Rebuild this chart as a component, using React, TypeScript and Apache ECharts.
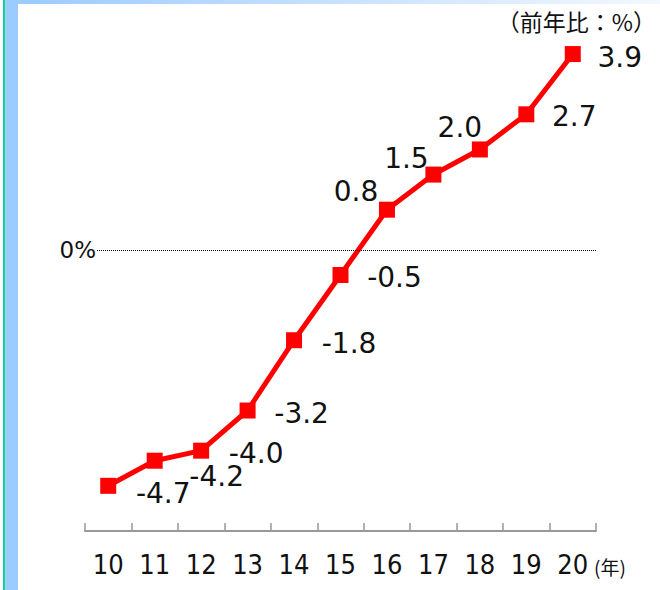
import { useEffect, useRef } from "react";
import * as echarts from "echarts";

const years = ["10", "11", "12", "13", "14", "15", "16", "17", "18", "19", "20"];
const growth = [-4.7, -4.2, -4.0, -3.2, -1.8, -0.5, 0.8, 1.5, 2.0, 2.7, 3.9];
const labelOffsets: [number, number][] = [
  [55, 8], [62, 16], [55, 3], [54, 3], [55, 3], [54, 3],
  [-31, -18], [-27, -16], [-20, -22], [48, 2], [47, 3],
];
const unitText = "（前年比：%）";
const yearUnitText = "(年)";
const zeroText = "0%";

const NUM_FONT = "'DejaVu Sans', Verdana, sans-serif";
const AXIS_FONT = "'Liberation Sans Narrow', 'DejaVu Sans Condensed', 'Liberation Sans', sans-serif";
const JP_FONT = "'Noto Sans CJK JP', 'Noto Sans', sans-serif";

export default function App() {
  const ref = useRef<HTMLDivElement>(null);
  useEffect(() => {
    if (!ref.current) return;
    const chart = echarts.init(ref.current, null, { renderer: "svg" });
    chart.setOption({
      animation: false,
      backgroundColor: "#ffffff",
      grid: { left: 85, right: 64, top: 34, bottom: 59 },
      xAxis: {
        type: "category",
        data: years,
        boundaryGap: true,
        axisLine: { onZero: false, lineStyle: { color: "#999999", width: 2 } },
        axisTick: { show: true, inside: true, length: 8, lineStyle: { color: "#999999", width: 1.5 } },
        axisLabel: { fontFamily: AXIS_FONT, fontSize: 27, color: "#111111", margin: 20 },
        splitLine: { show: false },
      },
      yAxis: {
        type: "value",
        min: -5.6,
        max: 4.3,
        show: false,
      },
      series: [
        {
          type: "line",
          data: growth.map((v, i) => ({ value: v, label: { offset: labelOffsets[i] } })),
          symbol: "rect",
          symbolSize: 16,
          lineStyle: { color: "#ff0000", width: 5 },
          itemStyle: { color: "#ff0000" },
          label: {
            show: true,
            position: "inside",
            align: "center",
            verticalAlign: "middle",
            fontFamily: NUM_FONT,
            fontSize: 28,
            color: "#111111",
            formatter: (p: any) => Number(p.value).toFixed(1),
          },
          markLine: {
            silent: true,
            symbol: ["none", "none"],
            lineStyle: { type: "dotted", color: "#000000", width: 1 },
            label: {
              show: true,
              position: "start",
              distance: -11,
              formatter: zeroText,
              fontFamily: NUM_FONT,
              fontSize: 23,
              color: "#111111",
              backgroundColor: "#ffffff",
            },
            data: [{ yAxis: 0 }],
          },
          z: 3,
        },
      ],
      graphic: [
        { type: "rect", left: 0, top: 0, shape: { x: 0, y: 0, width: 3, height: 590 }, style: { fill: "#ffffff" }, silent: true },
        { type: "rect", left: 3, top: 0, shape: { x: 0, y: 0, width: 2.5, height: 590 }, style: { fill: "#1fcc99" }, silent: true },
        { type: "rect", left: 5.5, top: 0, shape: { x: 0, y: 0, width: 12.5, height: 590 }, style: { fill: "#9ccbff" }, silent: true },
        {
          type: "rect", left: 18, top: 0, shape: { x: 0, y: 0, width: 642, height: 4 },
          style: {
            fill: new echarts.graphic.LinearGradient(0, 0, 1, 0, [
              { offset: 0, color: "#9ccbff" },
              { offset: 1, color: "#f3f8ff" },
            ]),
          },
          silent: true,
        },
        {
          type: "text", right: 4, top: 9,
          style: { text: unitText, font: `23px ${JP_FONT}`, fill: "#111111" },
        },
        {
          type: "text", left: 594, top: 557,
          style: { text: yearUnitText, font: `19px ${JP_FONT}`, fill: "#111111" },
        },
      ],
    });
    return () => chart.dispose();
  }, []);
  return <div ref={ref} style={{ position: "fixed", left: 0, top: 0, width: 660, height: 590 }} />;
}
